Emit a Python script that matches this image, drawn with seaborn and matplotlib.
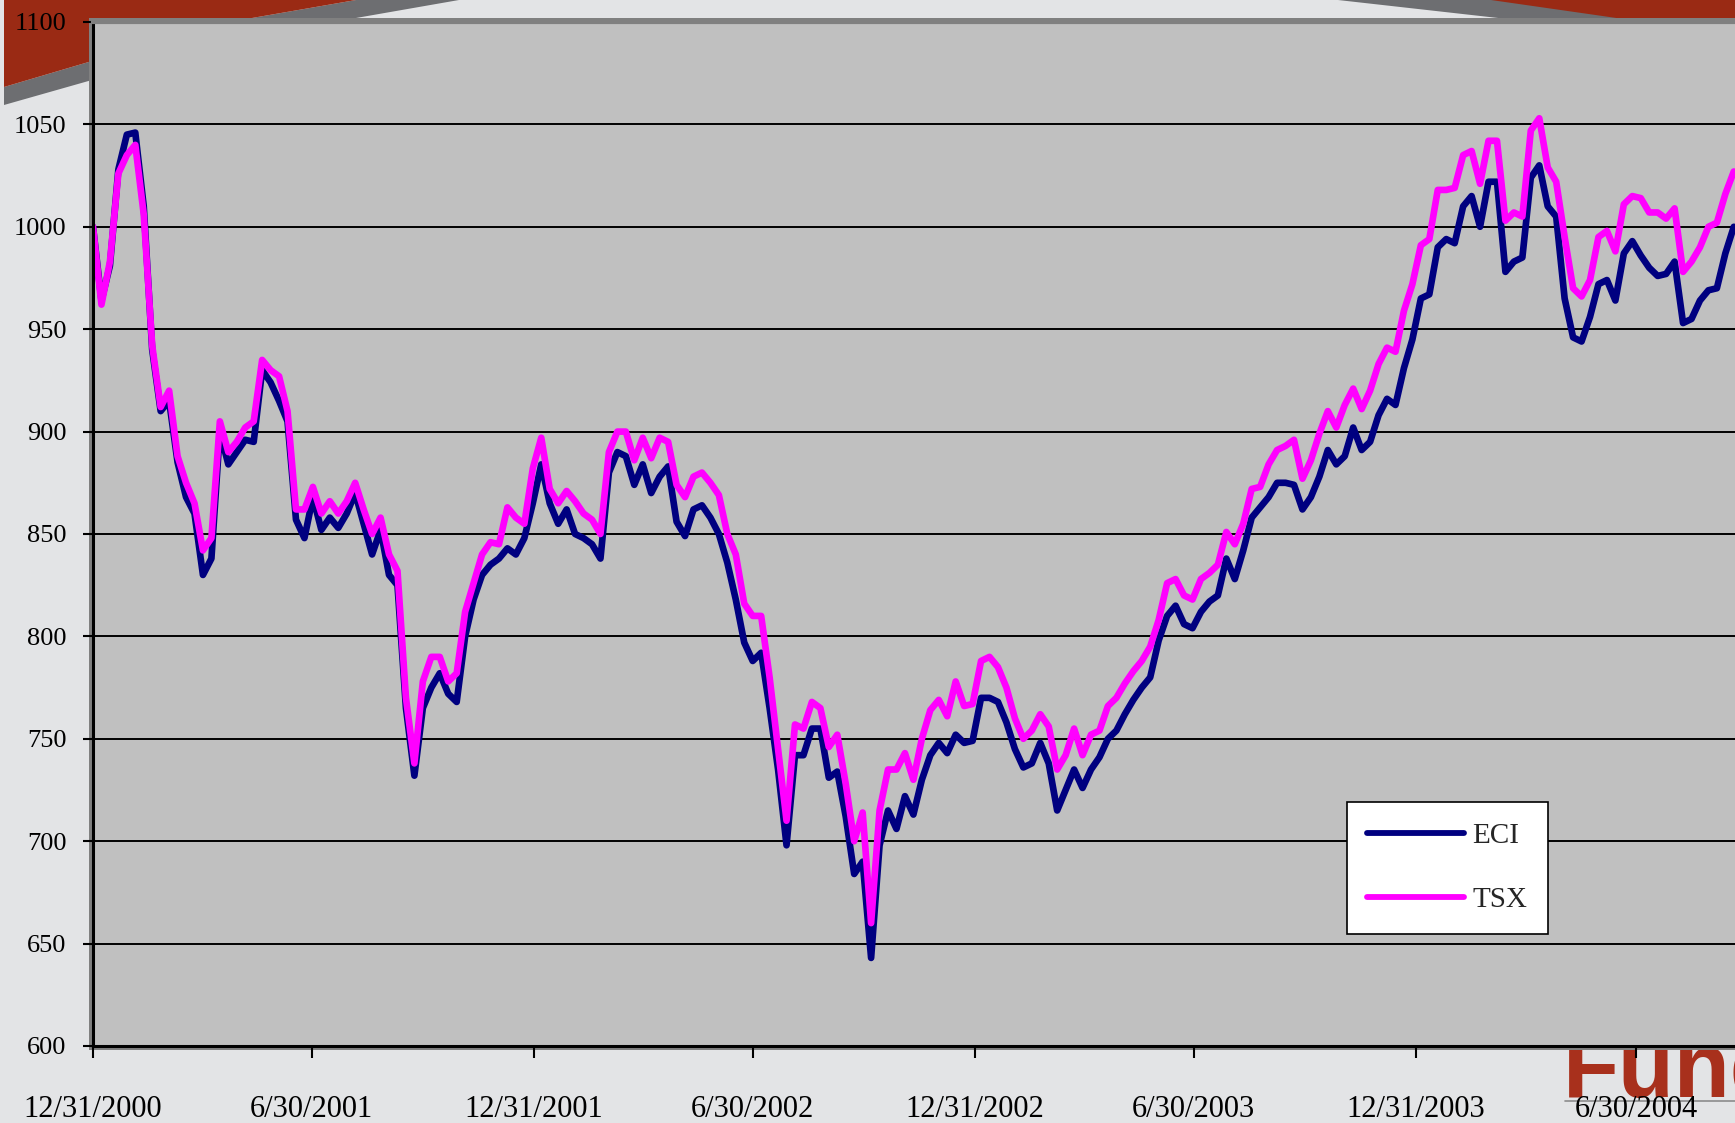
import numpy as np
import pandas as pd
import matplotlib
matplotlib.use("Agg")
import matplotlib.pyplot as plt
import seaborn as sns
from matplotlib.patches import Polygon, Rectangle
from matplotlib.lines import Line2D

# ---------------- data (weekly readings, base 1000 at 12/31/2000) ----------------
start_date = "2000-12-31"
series_names = ["ECI", "TSX"]

eci = [1000, 964, 981, 1028, 1045, 1046, 1010, 940, 910, 915,
       885, 868, 860, 830, 838, 900, 884, 890, 896, 895,
       930, 924, 915, 905, 857, 848, 868, 852, 858, 853,
       860, 870, 855, 840, 852, 830, 825, 765, 732, 765,
       775, 782, 772, 768, 800, 818, 830, 835, 838, 843,
       840, 848, 865, 884, 865, 855, 862, 850, 848, 845,
       838, 880, 890, 888, 874, 884, 870, 878, 883, 856,
       849, 862, 864, 858, 850, 836, 818, 797, 788, 792,
       765, 735, 698, 742, 742, 755, 755, 731, 734, 712,
       684, 690, 643, 698, 715, 706, 722, 713, 730, 742,
       748, 743, 752, 748, 749, 770, 770, 768, 758, 745,
       736, 738, 748, 738, 715, 725, 735, 726, 735, 741,
       750, 754, 762, 769, 775, 780, 798, 810, 815, 806,
       804, 812, 817, 820, 838, 828, 842, 858, 863, 868,
       875, 875, 874, 862, 868, 878, 891, 884, 888, 902,
       891, 895, 908, 916, 913, 931, 945, 965, 967, 990,
       994, 992, 1010, 1015, 1000, 1022, 1022, 978, 983, 985,
       1024, 1030, 1010, 1005, 965, 946, 944, 956, 972, 974,
       964, 987, 993, 986, 980, 976, 977, 983, 953, 955,
       964, 969, 970, 987, 1000]

tsx = [1000, 962, 983, 1026, 1035, 1040, 1006, 942, 912, 920,
       888, 875, 865, 842, 848, 905, 890, 895, 902, 905,
       935, 930, 927, 910, 862, 862, 873, 860, 866, 860,
       866, 875, 862, 850, 858, 840, 832, 770, 738, 778,
       790, 790, 778, 782, 812, 826, 840, 846, 845, 863,
       858, 855, 882, 897, 872, 865, 871, 866, 860, 857,
       850, 890, 900, 900, 886, 897, 887, 897, 895, 874,
       868, 878, 880, 875, 869, 850, 840, 816, 810, 810,
       780, 745, 710, 757, 755, 768, 765, 746, 752, 728,
       700, 714, 660, 715, 735, 735, 743, 730, 750, 764,
       769, 761, 778, 766, 767, 788, 790, 785, 775, 760,
       750, 754, 762, 756, 735, 742, 755, 742, 752, 754,
       766, 770, 777, 783, 788, 795, 808, 826, 828, 820,
       818, 828, 831, 835, 851, 845, 855, 872, 873, 884,
       891, 893, 896, 877, 886, 899, 910, 902, 913, 921,
       911, 920, 933, 941, 939, 959, 972, 991, 994, 1018,
       1018, 1019, 1035, 1037, 1021, 1042, 1042, 1003, 1007, 1005,
       1047, 1053, 1029, 1022, 995, 970, 966, 974, 995, 998,
       988, 1011, 1015, 1014, 1007, 1007, 1004, 1009, 978, 983,
       990, 1000, 1002, 1016, 1027]

tick_dates = ["2000-12-31", "2001-06-30", "2001-12-31", "2002-06-30",
              "2002-12-31", "2003-06-30", "2003-12-31", "2004-06-30"]
tick_labels = ["12/31/2000", "6/30/2001", "12/31/2001", "6/30/2002",
               "12/31/2002", "6/30/2003", "12/31/2003", "6/30/2004"]
y_ticks = [600, 650, 700, 750, 800, 850, 900, 950, 1000, 1050, 1100]

colors = {"ECI": "#000080", "TSX": "#FF00FF"}

# ---------------- frame ----------------
n = len(eci)
dates = pd.date_range(start_date, periods=n, freq="7D")
df = pd.DataFrame({
    "date": np.concatenate([dates.values, dates.values]),
    "value": eci + tsx,
    "series": ["ECI"] * n + ["TSX"] * n,
})

sns.set_style("white")
plt.rcParams["font.family"] = ["Liberation Serif", "DejaVu Serif"]

W, H = 1735, 1123
fig = plt.figure(figsize=(W / 100, H / 100), dpi=100, facecolor="#E3E4E6")


def fx(x):
    return x / W


def fy(y):
    return 1 - y / H


def poly(pts, color, z):
    p = Polygon([(fx(a), fy(b)) for a, b in pts], closed=True,
                transform=fig.transFigure, facecolor=color,
                edgecolor="none", zorder=z)
    fig.add_artist(p)


# decorative header swooshes
poly([(4, 87), (92, 61), (180, 37), (252, 18), (356, 0), (459, 0),
      (356, 18), (252, 38), (180, 57), (92, 80), (4, 105)], "#6D6E71", -6)
poly([(4, 0), (356, 0), (252, 18), (180, 37), (92, 61), (4, 87)], "#9A2A14", -6)
poly([(1338, 0), (1735, 0), (1735, 30), (1605, 30)], "#6D6E71", -6)
poly([(1491, 0), (1735, 0), (1735, 30), (1700, 30)], "#9A2A14", -6)

# logo text partly hidden behind plot
fig.text(fx(1563), fy(1097), "Fund", fontsize=66, fontweight="bold",
         family=["Liberation Sans", "DejaVu Sans"], color="#A8301C",
         ha="left", va="baseline", zorder=-4)
fig.add_artist(Line2D([fx(1565), 1.0], [fy(1101), fy(1101)], color="#8C8C8C",
                      lw=1.2, transform=fig.transFigure, zorder=-4))

# plot-area grey border
fig.add_artist(Rectangle((fx(89), fy(1050)), fx(1735) - fx(89), fy(18) - fy(1050),
                         transform=fig.transFigure, facecolor="#808080",
                         edgecolor="none", zorder=-1))

left, right, top, bottom = 93, 1735, 22, 1046
ax = fig.add_axes([fx(left), fy(bottom), fx(right) - fx(left), fy(top) - fy(bottom)])
ax.set_facecolor("#C0C0C0")

sns.lineplot(data=df, x="date", y="value", hue="series", hue_order=series_names,
             palette=colors, linewidth=4.8, estimator=None, errorbar=None,
             legend=False, ax=ax)

x0 = pd.Timestamp(start_date)
ax.set_xlim(x0, x0 + pd.Timedelta(days=1359))
ax.set_ylim(600, 1100)
ax.set_xlabel("")
ax.set_ylabel("")

ax.set_xticks(pd.to_datetime(tick_dates))
ax.set_xticklabels(tick_labels)
ax.set_yticks(y_ticks)
ax.set_yticklabels([str(v) for v in y_ticks])

ax.tick_params(axis="x", direction="out", length=8.5, width=1.5, color="black",
               pad=27, labelsize=22, labelcolor="black", bottom=True)
ax.tick_params(axis="y", direction="out", length=7, width=1.5, color="black",
               pad=12, labelsize=19, labelcolor="black", left=True)

ax.set_axisbelow(True)
ax.yaxis.grid(True, color="black", linewidth=1.4)
ax.xaxis.grid(False)

for s in ["left", "bottom"]:
    ax.spines[s].set_color("black")
    ax.spines[s].set_linewidth(2.2)
ax.spines["top"].set_color("#808080")
ax.spines["top"].set_linewidth(3)
ax.spines["right"].set_visible(False)

handles = [Line2D([], [], color=colors[s], lw=4.2) for s in series_names]
leg = ax.legend(handles, series_names, loc="upper left",
                bbox_to_anchor=(0.7637, 0.2383), borderaxespad=0,
                frameon=True, fancybox=False, shadow=False,
                edgecolor="black", facecolor="white", framealpha=1,
                fontsize=21, handlelength=3.3, handletextpad=0.3,
                labelspacing=1.3, borderpad=0.7)
leg.get_frame().set_linewidth(1.2)

fig.savefig("out.png", dpi=100, facecolor=fig.get_facecolor())
